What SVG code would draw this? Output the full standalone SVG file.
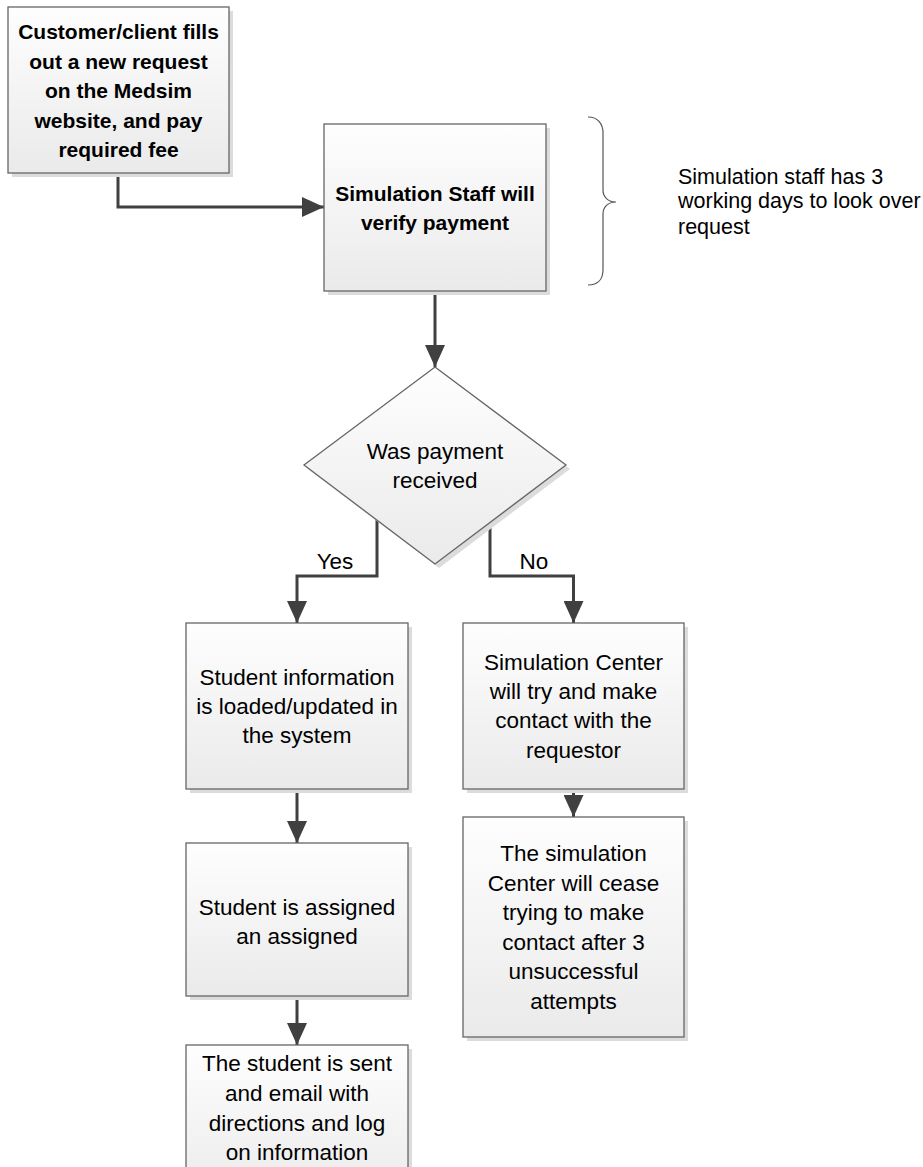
<svg xmlns="http://www.w3.org/2000/svg" width="923" height="1167" viewBox="0 0 923 1167">
<defs>
<linearGradient id="g" x1="0" y1="0" x2="0" y2="1">
<stop offset="0" stop-color="#fefefe"/>
<stop offset="1" stop-color="#eaeaea"/>
</linearGradient>
<marker id="ah" markerUnits="userSpaceOnUse" markerWidth="22" markerHeight="20" viewBox="0 0 22 20" refX="22" refY="10" orient="auto">
<path d="M0,0 L22,10 L0,20 z" fill="#404040"/>
</marker>
<style>
.box{fill:url(#g);stroke:#666;stroke-width:1.3}
.sh{fill:#dcdcdc}
.c{fill:none;stroke:#404040;stroke-width:3;marker-end:url(#ah)}
text{font-family:"Liberation Sans",Arial,sans-serif;font-size:22.5px;fill:#000;text-anchor:middle}
.b{font-weight:bold;font-size:21px}
.l{text-anchor:start;font-size:21.5px}
</style>
</defs>
<rect width="923" height="1167" fill="#fff"/>
<g id="connectors">
<path class="c" d="M118,173 V207 H324"/>
<path class="c" d="M435,291 V367"/>
<path class="c" d="M377,520 V576 H297 V623"/>
<path class="c" d="M490,522 V576 H573.5 V623"/>
<path class="c" d="M573.5,789 V817"/>
<path class="c" d="M297,789 V843"/>
<path class="c" d="M297,996 V1045"/>
<text x="335" y="569">Yes</text>
<text x="534" y="569">No</text>
</g>
<g id="n1">
<rect class="sh" x="12" y="11" width="221" height="166"/>
<rect class="box" x="8" y="7" width="221" height="166"/>
<text class="b" x="118.5" y="39">Customer/client fills</text>
<text class="b" x="118.5" y="68.5">out a new request</text>
<text class="b" x="118.5" y="98">on the Medsim</text>
<text class="b" x="118.5" y="127.5">website, and pay</text>
<text class="b" x="118.5" y="157">required fee</text>
</g>
<g id="n2">
<rect class="sh" x="328" y="128" width="222" height="167"/>
<rect class="box" x="324" y="124" width="222" height="167"/>
<text class="b" x="435" y="201">Simulation Staff will</text>
<text class="b" x="435" y="230">verify payment</text>
</g>
<g id="note">
<path d="M588,117 C598,117 603,124 603,133 V190 C603,197 608,202 616,202 C608,202 603,207 603,214 V270 C603,279 598,285 588,285" fill="none" stroke="#555" stroke-width="1.2"/>
<text class="l" x="678" y="184">Simulation staff has 3</text>
<text class="l" x="678" y="208">working days to look over</text>
<text class="l" x="678" y="234">request</text>
</g>
<g id="n3">
<polygon class="sh" points="439,371 570,469 439,568 308,469"/>
<polygon class="box" points="435,367 566,465 435,564 304,465"/>
<text x="435" y="459">Was payment</text>
<text x="435" y="488">received</text>
</g>
<g id="n4">
<rect class="sh" x="190" y="627" width="222" height="166"/>
<rect class="box" x="186" y="623" width="222" height="166"/>
<text x="297" y="685">Student information</text>
<text x="297" y="714">is loaded/updated in</text>
<text x="297" y="743">the system</text>
</g>
<g id="n5">
<rect class="sh" x="467" y="627" width="221" height="166"/>
<rect class="box" x="463" y="623" width="221" height="166"/>
<text x="573.5" y="670">Simulation Center</text>
<text x="573.5" y="699">will try and make</text>
<text x="573.5" y="728">contact with the</text>
<text x="573.5" y="758">requestor</text>
</g>
<g id="n6">
<rect class="sh" x="467" y="821" width="221" height="220"/>
<rect class="box" x="463" y="817" width="221" height="220"/>
<text x="573.5" y="861">The simulation</text>
<text x="573.5" y="890.5">Center will cease</text>
<text x="573.5" y="920">trying to make</text>
<text x="573.5" y="949.5">contact after 3</text>
<text x="573.5" y="979">unsuccessful</text>
<text x="573.5" y="1008.5">attempts</text>
</g>
<g id="n7">
<rect class="sh" x="190" y="847" width="222" height="153"/>
<rect class="box" x="186" y="843" width="222" height="153"/>
<text x="297" y="915">Student is assigned</text>
<text x="297" y="944">an assigned</text>
</g>
<g id="n8">
<rect class="sh" x="190" y="1049" width="222" height="160"/>
<rect class="box" x="186" y="1045" width="222" height="160"/>
<text x="297" y="1071">The student is sent</text>
<text x="297" y="1101">and email with</text>
<text x="297" y="1131">directions and log</text>
<text x="297" y="1160">on information</text>
</g>
</svg>
